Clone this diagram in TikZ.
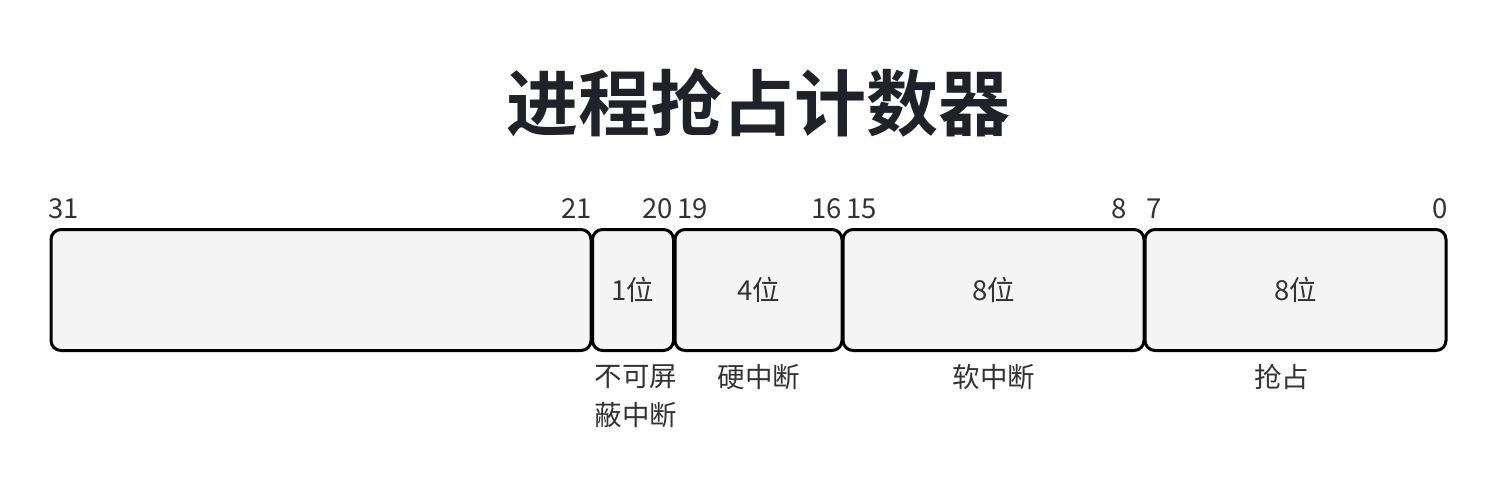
\documentclass[tikz,border=0pt]{standalone}
\usepackage{fontspec}
\setmainfont{Noto Sans CJK SC}
\newfontfamily\titlefont{Noto Sans CJK SC Bold}
\definecolor{boxfill}{HTML}{F4F4F4}
\definecolor{txt}{HTML}{333333}
\definecolor{titlecol}{HTML}{1F2329}
\tikzset{
  field/.style={draw=black, line width=3pt, fill=boxfill, rounded corners=10pt,
    minimum height=121pt, inner sep=0pt, text=txt, font=\fontsize{27.5}{32}\selectfont},
  bitno/.style={text=txt, inner sep=0pt, font=\fontsize{27.5}{32}\selectfont},
  lbl/.style={text=txt, inner sep=0pt, align=center, font=\fontsize{27.5}{39}\selectfont},
}
\begin{document}
\begin{tikzpicture}[x=1pt,y=-1pt]
\useasboundingbox (0,0) rectangle (1498,484);
\node[text=titlecol, inner sep=0pt, font=\titlefont\fontsize{72}{80}\selectfont] (title) at (758,103) {进程抢占计数器};
% fields
\node[field, minimum width=540pt] (f1) at (321,290) {};
\node[field, minimum width=81pt] (f2) at (633,290) {\raisebox{-2pt}{1位}};
\node[field, minimum width=167pt] (f3) at (758.5,290) {\raisebox{-2pt}{4位}};
\node[field, minimum width=301pt] (f4) at (993.5,290) {\raisebox{-2pt}{8位}};
\node[field, minimum width=301pt] (f5) at (1295.5,290) {\raisebox{-2pt}{8位}};
% bit numbers
\node[bitno, anchor=base west] (b31) at (48,218) {31};
\node[bitno, anchor=base east] (b21) at (592,218) {21};
\node[bitno, anchor=base east] (b20) at (673,218) {20};
\node[bitno, anchor=base west] (b19) at (677,218) {19};
\node[bitno, anchor=base east] (b16) at (842,218) {16};
\node[bitno, anchor=base west] (b15) at (846,218) {15};
\node[bitno, anchor=base east] (b8) at (1127,218) {8};
\node[bitno, anchor=base west] (b7) at (1146,218) {7};
\node[bitno, anchor=base east] (b0) at (1448,218) {0};
% labels
\node[lbl] (l2) at (636,396.5) {不可屏\\蔽中断};
\node[lbl] (l3) at (759,377) {硬中断};
\node[lbl] (l4) at (994,377) {软中断};
\node[lbl] (l5) at (1281.5,377) {抢占};
\end{tikzpicture}
\end{document}
